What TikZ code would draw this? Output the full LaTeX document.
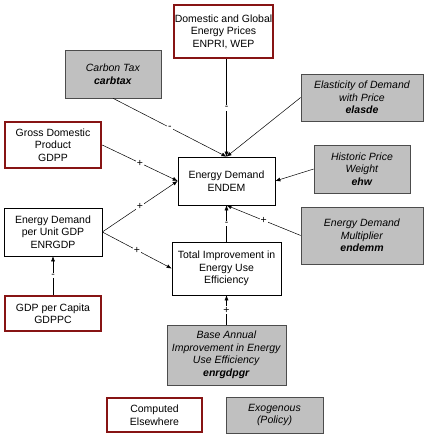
\documentclass[tikz,border=0pt]{standalone}
\usepackage{fontspec}
\setmainfont{Liberation Sans}
\usetikzlibrary{arrows.meta}
\definecolor{boxred}{RGB}{135,20,20}
\definecolor{boxgray}{RGB}{192,192,192}
\begin{document}
\begin{tikzpicture}[x=1pt,y=-1pt,
		every node/.style={font=\fontsize{10.5}{12.5}\selectfont, align=center, inner sep=0pt},
		calc/.style={draw=boxred, line width=2.5pt, fill=white},
		exog/.style={draw=black!70, line width=0.6pt, fill=boxgray},
		var/.style={draw=black, line width=0.6pt, fill=white},
		flow/.style={-{Latex[length=5pt,width=4pt]}, line width=0.5pt},
		sign/.style={fill=white, inner sep=1pt}]
	\useasboundingbox (0,0) rectangle (425,439);
	% computed elsewhere
	\node[calc, minimum width=99pt, minimum height=53pt] (enpri) at (223.5,31.5) {Domestic and Global\\Energy Prices\\ENPRI, WEP};
	\node[calc, minimum width=96pt, minimum height=46pt] (gdpp) at (53,145) {Gross Domestic\\Product\\GDPP};
	\node[calc, minimum width=96pt, minimum height=35pt] (gdppc) at (53,313.5) {GDP per Capita\\GDPPC};
	\node[calc, minimum width=95pt, minimum height=34pt] (legcalc) at (154.5,415) {Computed\\Elsewhere};
	% exogenous
	\node[exog, minimum width=96pt, minimum height=48pt] (carbtax) at (113,74) {\textit{Carbon Tax}\\\textbf{\textit{carbtax}}};
	\node[exog, minimum width=122pt, minimum height=47pt] (elasde) at (362,97.5) {\textit{Elasticity of Demand}\\\textit{with Price}\\\textbf{\textit{elasde}}};
	\node[exog, minimum width=96pt, minimum height=48pt] (ehw) at (362,169) {\textit{Historic Price}\\\textit{Weight}\\\textbf{\textit{ehw}}};
	\node[exog, minimum width=122pt, minimum height=57pt] (endemm) at (362,235.5) {\textit{Energy Demand}\\\textit{Multiplier}\\\textbf{\textit{endemm}}};
	\node[exog, minimum width=119pt, minimum height=60pt] (enrgdpgr) at (226.5,355) {\textit{Base Annual}\\\textit{Improvement in Energy}\\\textit{Use Efficiency}\\\textbf{\textit{enrgdpgr}}};
	\node[exog, minimum width=97pt, minimum height=36pt] (legexog) at (274.5,415) {\textit{Exogenous}\\\textit{(Policy)}};
	% model variables
	\node[var, minimum width=97pt, minimum height=48pt] (endem) at (226.5,181) {Energy Demand\\ENDEM};
	\node[var, minimum width=98pt, minimum height=48pt] (enrgdp) at (53,232) {Energy Demand\\per Unit GDP\\ENRGDP};
	\node[var, minimum width=109pt, minimum height=53pt] (eff) at (226.5,268.5) {Total Improvement in\\Energy Use\\Efficiency};
	% links
	\foreach \from/\to/\s in {enpri.south -| endem.north/endem.north/-,
			carbtax.south/endem.north/-,
			gdpp.east/endem.west/+,
			enrgdp.east/endem.west/+,
			enrgdp.east/eff.west/+,
			endemm.west/endem.south/+,
			eff.north/endem.south/-,
			enrgdpgr.north/eff.south/+,
			gdppc.north/enrgdp.south/-}
		{
			\draw[flow] (\from) -- node[sign] {\s} (\to);
		}
	\draw[flow] (elasde.west) -- (endem.north);
	\draw[flow] (ehw.west) -- (endem.east);
\end{tikzpicture}
\end{document}
